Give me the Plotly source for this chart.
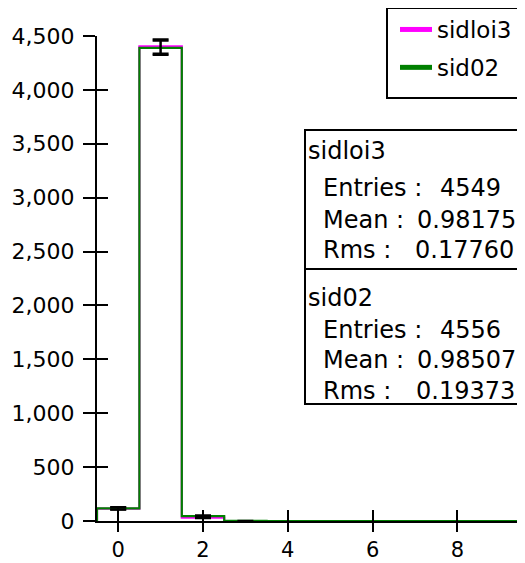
import numpy as np
import plotly.graph_objects as go

# ---- data ----
bin_centers = [0, 1, 2, 3, 4, 5, 6, 7, 8, 9]
sidloi3_counts = [114, 4404, 31, 0, 0, 0, 0, 0, 0, 0]
sid02_counts = [118, 4390, 46, 2, 0, 0, 0, 0, 0, 0]
series_names = ["sidloi3", "sid02"]
series_colors = ["#ff00ff", "#008000"]
stat_entries = ["4549", "4556"]
stat_means = ["0.98175", "0.98507"]
stat_rms = ["0.17760", "0.19373"]
x_ticks = [0, 2, 4, 6, 8]
y_ticks = [0, 500, 1000, 1500, 2000, 2500, 3000, 3500, 4000, 4500]

# page body has an 8px margin; layout below is given in window pixels
OFF = 8
W, H = 525 - OFF, 563 - OFF
plot_left, plot_right, plot_top, plot_bottom = 97, 521, 36, 521
L = plot_left - OFF
T = plot_top - OFF
R = W - (plot_right - OFF)
B = H - (plot_bottom - OFF)
pw, ph = W - L - R, H - T - B


def px(xw):
    return (xw - plot_left) / pw


def py(yw):
    return (plot_bottom - yw) / ph


FONT = "DejaVu Sans, Liberation Sans, Arial, sans-serif"

fig = go.Figure()

for name, counts, color in zip(series_names, [sidloi3_counts, sid02_counts], series_colors):
    edges_x = [c - 0.5 for c in bin_centers] + [bin_centers[-1] + 0.5]
    step_y = [0] + list(counts) + [counts[-1]]
    step_x = [edges_x[0]] + edges_x
    fig.add_trace(go.Scatter(x=step_x, y=step_y, mode="lines", line=dict(color=color, width=2.2, shape="hv"),
                             showlegend=False, hoverinfo="skip"))

for name, counts in zip(series_names, [sidloi3_counts, sid02_counts]):
    xs = [x for x, v in zip(bin_centers, counts) if v > 0]
    ys = [v for v in counts if v > 0]
    es = [float(np.sqrt(v)) for v in ys]
    fig.add_trace(go.Scatter(x=xs, y=ys, mode="markers", marker=dict(size=0.1, color="black", opacity=0),
                             error_y=dict(type="data", array=es, visible=True, color="black", thickness=2, width=8),
                             showlegend=False, hoverinfo="skip"))

for name, color in zip(series_names, series_colors):
    fig.add_trace(go.Scatter(x=[None], y=[None], mode="lines", name=name, legendgroup=name,
                             line=dict(color=color, width=5)))

# secondary axes for inward ticks
fig.add_trace(go.Scatter(x=[None], y=[None], xaxis="x2", yaxis="y2", showlegend=False))

axis_common = dict(showgrid=False, zeroline=False, showline=True, linecolor="black", linewidth=2,
                   ticks="outside", tickwidth=2, tickcolor="black", automargin=False)

fig.update_layout(
    width=W, height=H,
    margin=dict(l=L, r=R, t=T, b=B, autoexpand=False),
    plot_bgcolor="white", paper_bgcolor="white",
    xaxis=dict(range=[-0.5, 9.5], tickvals=x_ticks, ticklen=9,
               tickfont=dict(family=FONT, size=21, color="black"), **axis_common),
    yaxis=dict(range=[0, 4500], tickvals=y_ticks, tickformat=",d", ticklen=12, ticklabelstandoff=4,
               tickfont=dict(family=FONT, size=22, color="black"), **axis_common),
    xaxis2=dict(range=[-0.5, 9.5], overlaying="x", tickvals=x_ticks, showticklabels=False, showgrid=False,
                zeroline=False, ticks="inside", ticklen=11, tickwidth=2, tickcolor="black", anchor="y2"),
    yaxis2=dict(range=[0, 4500], overlaying="y", tickvals=y_ticks, showticklabels=False, showgrid=False,
                zeroline=False, ticks="inside", ticklen=11, tickwidth=2, tickcolor="black", anchor="x2"),
    legend=dict(x=px(395), y=py(8), xanchor="left", yanchor="top", borderwidth=0,
                bgcolor="rgba(0,0,0,0)", font=dict(family=FONT, size=23, color="black"), tracegroupgap=5,
                itemwidth=32),
    showlegend=True,
)

# legend frame
fig.add_shape(type="rect", xref="paper", yref="paper", x0=px(387), x1=px(524), y0=py(98), y1=py(8),
              line=dict(color="black", width=2), fillcolor="rgba(0,0,0,0)", layer="above")

# stats boxes
box_top, box_mid, box_bot, box_left, box_right = 130, 269, 404, 305, 524
fig.add_shape(type="rect", xref="paper", yref="paper", x0=px(box_left), x1=px(box_right), y0=py(box_bot),
              y1=py(box_top), line=dict(color="black", width=2), fillcolor="white", layer="above")
fig.add_shape(type="line", xref="paper", yref="paper", x0=px(box_left), x1=px(box_right), y0=py(box_mid),
              y1=py(box_mid), line=dict(color="black", width=2), layer="above")

stat_font = dict(family=FONT, size=24, color="black")
title_y = [151, 298]
rows_y = [[188, 220, 250], [330, 360, 391]]
val_right = [[503, 518, 516], [503, 518, 517]]
for i, name in enumerate(series_names):
    fig.add_annotation(x=px(306), y=py(title_y[i]), xref="paper", yref="paper", text=name, showarrow=False,
                       xanchor="left", yanchor="middle", font=stat_font)
    labels = ["Entries :", "Mean :", "Rms :"]
    vals = [stat_entries[i], stat_means[i], stat_rms[i]]
    for j in range(3):
        fig.add_annotation(x=px(321), y=py(rows_y[i][j]), xref="paper", yref="paper", text=labels[j],
                           showarrow=False, xanchor="left", yanchor="middle", font=stat_font)
        fig.add_annotation(x=px(val_right[i][j]), y=py(rows_y[i][j]), xref="paper", yref="paper", text=vals[j],
                           showarrow=False, xanchor="right", yanchor="middle", font=stat_font)

fig.write_html("out.html")
